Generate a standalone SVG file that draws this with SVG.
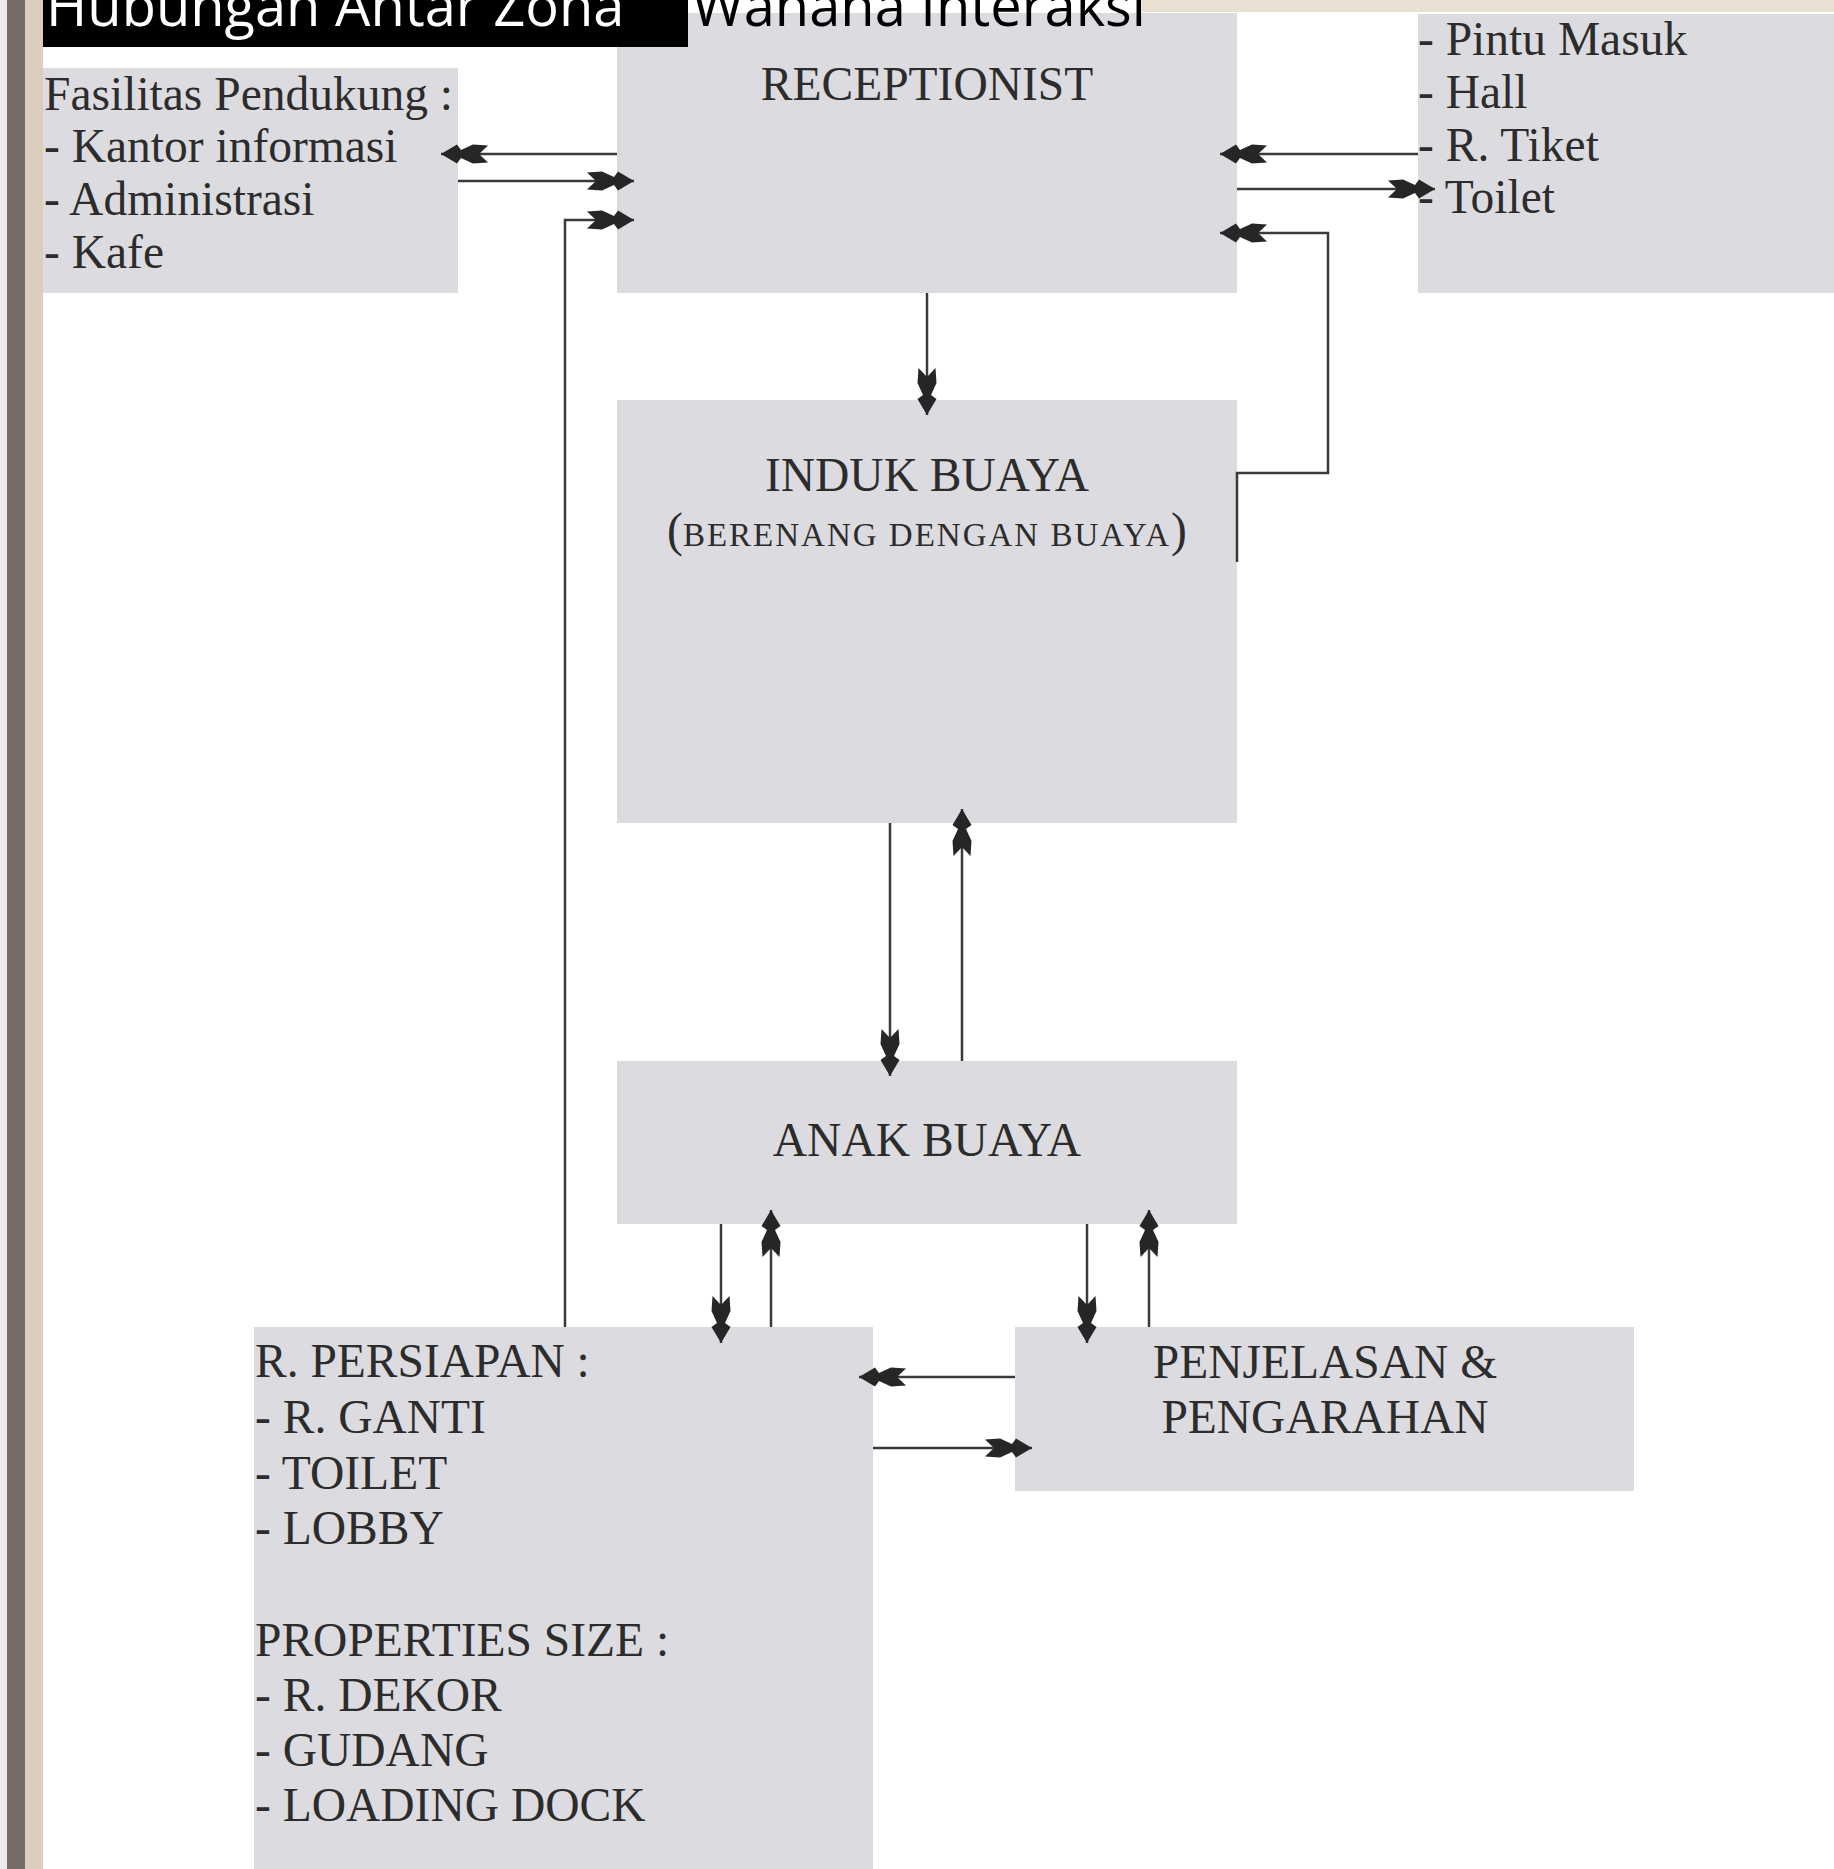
<svg xmlns="http://www.w3.org/2000/svg" width="1834" height="1869" viewBox="0 0 1834 1869">
  <style>
    .box { fill: #dcdce0; }
    .lbl { font-family: "Liberation Serif", "Times New Roman", serif; font-size: 47.5px; fill: #2c2c2c; }
    .mid { text-anchor: middle; }
    .title { font-family: "Open Sans", "Liberation Sans", sans-serif; font-size: 56px; }
    .wire { fill: none; stroke: #3a3a3a; stroke-width: 2.5; }
  </style>
  <defs>
    <!-- barbed arrowhead, tip at the end of the path -->
    <marker id="ah" markerUnits="userSpaceOnUse" markerWidth="60" markerHeight="24" viewBox="-50 -12 60 24" refX="0" refY="0" orient="auto" overflow="visible">
      <path d="M0,0 L-16,-9.5 L-20,-4 L-32,-9.5 L-47,-8.5 L-38,0 L-47,8.5 L-32,9.5 L-20,4 L-16,9.5 Z" fill="#262626"/>
    </marker>
  </defs>

  <rect width="1834" height="1869" fill="#ffffff"/>

  <!-- page edge -->
  <rect x="0" y="0" width="7" height="1869" fill="#ecebec"/>
  <rect x="7" y="0" width="18" height="1869" fill="#776b68"/>
  <rect x="25" y="0" width="18" height="1869" fill="#ddcdbf"/>
  <rect x="1142" y="0" width="692" height="12" fill="#e9e0d2"/>

  <!-- nodes -->
  <g id="fasilitas">
    <rect class="box" x="43" y="68" width="415" height="225"/>
    <text class="lbl" x="44" y="110">Fasilitas Pendukung :</text>
    <text class="lbl" x="44" y="162">- Kantor informasi</text>
    <text class="lbl" x="44" y="215">- Administrasi</text>
    <text class="lbl" x="44" y="268">- Kafe</text>
  </g>

  <g id="receptionist">
    <rect class="box" x="617" y="13" width="620" height="280"/>
    <text class="lbl mid" x="927" y="100">RECEPTIONIST</text>
  </g>

  <g id="entrance">
    <rect class="box" x="1418" y="14" width="416" height="279"/>
    <text class="lbl" x="1418" y="55">- Pintu Masuk</text>
    <text class="lbl" x="1418" y="108">- Hall</text>
    <text class="lbl" x="1418" y="161">- R. Tiket</text>
    <text class="lbl" x="1418" y="213">- Toilet</text>
  </g>

  <g id="induk-buaya">
    <rect class="box" x="617" y="400" width="620" height="423"/>
    <text class="lbl mid" x="927" y="491">INDUK BUAYA</text>
    <text class="lbl mid" x="927" y="546"><tspan>(</tspan><tspan font-size="33" letter-spacing="2">BERENANG DENGAN BUAYA</tspan><tspan>)</tspan></text>
  </g>

  <g id="anak-buaya">
    <rect class="box" x="617" y="1061" width="620" height="163"/>
    <text class="lbl mid" x="927" y="1156">ANAK BUAYA</text>
  </g>

  <g id="persiapan">
    <rect class="box" x="254" y="1327" width="619" height="542"/>
    <text class="lbl" x="255" y="1377">R. PERSIAPAN :</text>
    <text class="lbl" x="255" y="1433">- R. GANTI</text>
    <text class="lbl" x="255" y="1489">- TOILET</text>
    <text class="lbl" x="255" y="1544">- LOBBY</text>
    <text class="lbl" x="255" y="1656">PROPERTIES SIZE :</text>
    <text class="lbl" x="255" y="1711">- R. DEKOR</text>
    <text class="lbl" x="255" y="1766">- GUDANG</text>
    <text class="lbl" x="255" y="1821">- LOADING DOCK</text>
  </g>

  <g id="penjelasan">
    <rect class="box" x="1015" y="1327" width="619" height="164"/>
    <text class="lbl mid" x="1325" y="1378">PENJELASAN &amp;</text>
    <text class="lbl mid" x="1325" y="1433">PENGARAHAN</text>
  </g>

  <!-- title bar, its lettering runs off the top edge -->
  <g id="title">
    <rect x="43" y="0" width="645" height="47" fill="#000000"/>
    <text class="title" x="46" y="26" fill="#ffffff">Hubungan Antar Zona</text>
    <text class="title" x="692" y="26" fill="#000000">Wahana Interaksi</text>
  </g>

  <!-- connectors -->
  <g id="connectors" class="wire" marker-end="url(#ah)">
    <path d="M617,154 H441"/>
    <path d="M458,181 H634"/>
    <path d="M565,1327 V220 H634"/>
    <path d="M1418,154 H1220"/>
    <path d="M1237,189 H1435"/>
    <path d="M1237,562 V473 H1328 V233 H1220"/>
    <path d="M927,293 V415"/>
    <path d="M890,823 V1076"/>
    <path d="M962,1061 V809"/>
    <path d="M721,1224 V1343"/>
    <path d="M771,1327 V1210"/>
    <path d="M1087,1224 V1343"/>
    <path d="M1149,1327 V1210"/>
    <path d="M1015,1377 H859"/>
    <path d="M873,1448 H1032"/>
  </g>
</svg>
